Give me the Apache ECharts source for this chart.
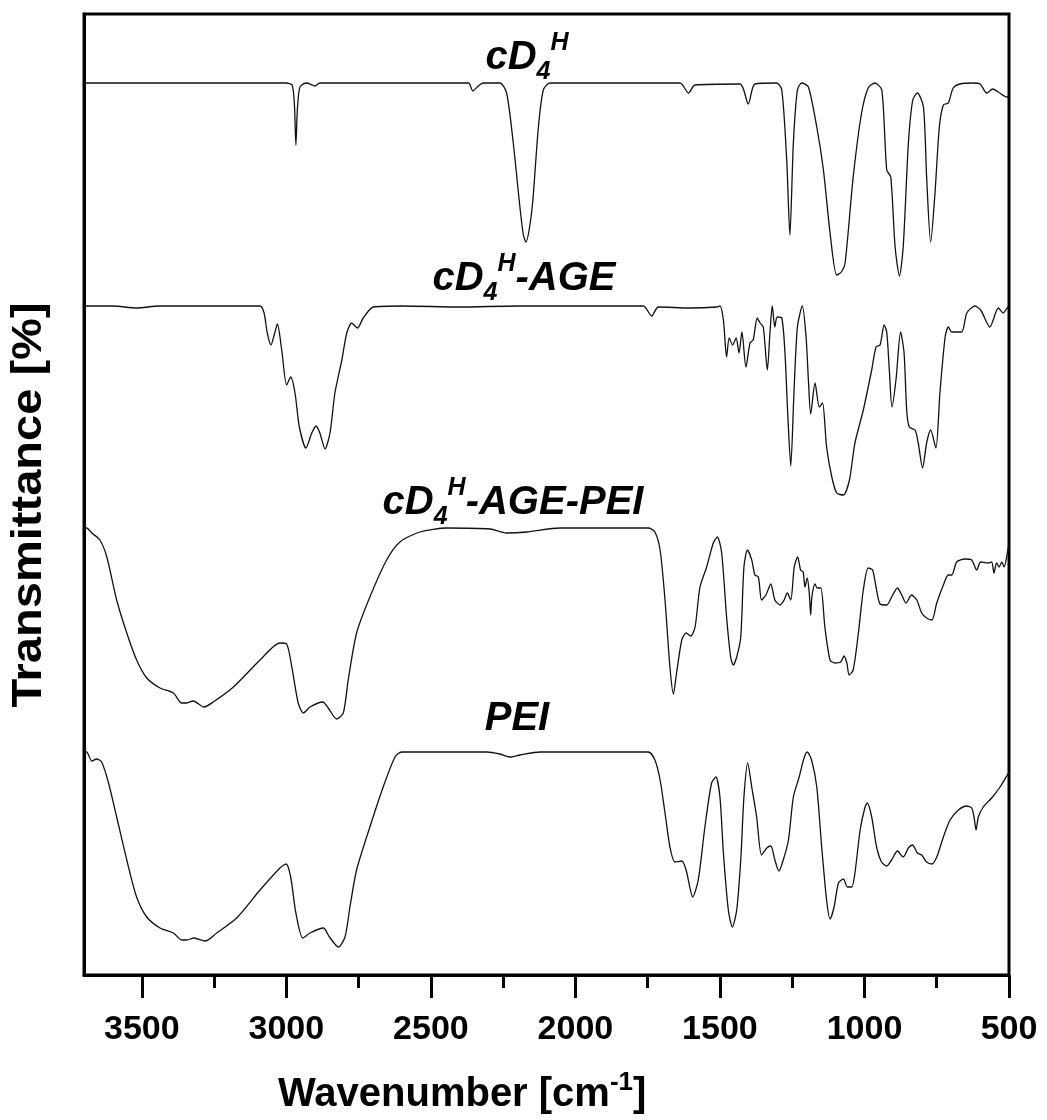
<!DOCTYPE html>
<html><head><meta charset="utf-8">
<script src="https://cdn.jsdelivr.net/npm/echarts@6/dist/echarts.min.js"></script>
<style>html,body{margin:0;padding:0;background:#fff}#c{width:1047px;height:1120px}</style>
</head><body><div id="c"></div>
<script>
// tick values (cm-1)
const majorTicks = [500, 1000, 1500, 2000, 2500, 3000, 3500];
const minorTicks = [750, 1250, 1750, 2250, 2750, 3250];
const seriesNames = ['cD4H', 'cD4H-AGE', 'cD4H-AGE-PEI', 'PEI'];

// [wavenumber, offset transmittance]
const cd4h = [[3700,89.2],[3000,89.2],[2980,89.0],[2972,87.0],[2967,83.0],[2962,86.5],[2955,88.6],[2947,89.0],[2930,89.2],[2910,89.0],[2901,88.9],[2884,89.2],[2600,89.2],[2370,89.2],[2355,88.4],[2336,88.9],[2319,89.2],[2261,89.2],[2238,88.2],[2215,83.2],[2192,76.8],[2180,74.0],[2171,73.3],[2160,74.5],[2148,77.2],[2128,84.8],[2111,88.5],[2088,89.2],[1900,89.2],[1638,89.2],[1609,88.2],[1586,89.0],[1431,89.1],[1402,87.1],[1379,89.1],[1304,89.2],[1286,88.5],[1269,81.5],[1258,74.0],[1246,83.2],[1232,88.5],[1217,89.2],[1194,88.8],[1165,84.8],[1142,80.5],[1119,74.2],[1096,70.0],[1080,70.3],[1067,71.2],[1039,79.8],[1010,86.2],[987,88.7],[964,89.2],[940,88.5],[923,80.5],[909,79.8],[894,72.8],[879,69.9],[866,72.8],[848,83.2],[833,87.5],[817,88.2],[796,86.8],[785,79.8],[771,73.3],[756,78.2],[741,84.8],[727,87.0],[710,87.2],[693,88.7],[670,89.1],[623,89.2],[600,89.1],[577,88.2],[556,88.6],[537,88.3],[508,87.8],[500,87.8]];

const cd4hAge = [[3700,66.9],[3600,66.9],[3518,66.7],[3440,66.9],[3200,66.9],[3091,66.9],[3077,66.2],[3066,64.2],[3053,63.0],[3042,64.0],[3031,65.1],[3016,62.5],[2999,59.0],[2985,59.8],[2970,58.2],[2955,54.8],[2932,52.7],[2912,54.2],[2897,54.9],[2884,54.2],[2866,52.6],[2849,54.2],[2832,58.2],[2808,61.5],[2791,64.2],[2774,65.2],[2754,64.7],[2734,65.7],[2699,66.8],[2600,66.9],[2400,66.8],[2200,66.9],[1900,66.9],[1765,66.9],[1736,65.9],[1713,66.8],[1600,66.7],[1511,66.8],[1500,66.9],[1488,65.5],[1477,61.8],[1468,63.7],[1456,63.0],[1444,63.7],[1434,62.2],[1424,64.3],[1410,60.8],[1396,63.2],[1385,63.5],[1371,65.7],[1361,65.2],[1350,64.8],[1336,60.5],[1327,64.2],[1319,66.9],[1310,64.8],[1302,65.8],[1286,65.7],[1275,62.2],[1266,56.5],[1255,50.9],[1244,58.2],[1232,64.8],[1215,66.9],[1202,63.8],[1194,59.5],[1186,56.1],[1171,59.2],[1156,56.8],[1145,57.2],[1131,52.8],[1113,49.8],[1096,48.2],[1073,48.0],[1052,49.5],[1033,53.2],[1004,56.5],[975,60.5],[960,62.8],[946,63.0],[932,65.0],[923,64.3],[914,60.5],[905,56.8],[891,59.5],[875,64.3],[863,62.2],[854,56.5],[845,54.8],[825,54.5],[814,53.2],[799,50.7],[785,53.2],[771,54.5],[753,52.7],[739,58.2],[721,63.8],[710,64.8],[698,64.3],[664,64.3],[646,66.2],[618,66.9],[598,66.5],[566,64.8],[537,66.7],[520,66.2],[502,66.8],[500,66.8]];

const cd4hAgePei = [[3700,44.7],[3691,44.7],[3673,44.2],[3645,43.5],[3621,41.8],[3587,37.5],[3552,34.2],[3518,31.5],[3483,29.7],[3437,28.7],[3391,28.2],[3362,27.2],[3345,27.2],[3322,27.4],[3285,26.8],[3253,27.3],[3183,28.8],[3091,31.5],[3022,33.2],[2999,33.1],[2981,30.8],[2959,27.2],[2941,26.2],[2918,26.8],[2874,27.3],[2855,26.7],[2826,25.6],[2803,26.2],[2786,29.5],[2757,34.2],[2711,37.8],[2653,41.5],[2607,43.3],[2538,44.3],[2445,44.7],[2295,44.6],[2238,44.2],[2169,44.3],[2053,44.7],[1748,44.7],[1725,44.3],[1707,42.5],[1690,37.5],[1673,30.8],[1661,28.1],[1650,30.2],[1632,33.5],[1617,34.2],[1601,33.9],[1586,34.8],[1569,38.8],[1546,40.8],[1523,43.2],[1509,43.8],[1494,42.2],[1477,35.8],[1463,31.8],[1454,31.0],[1442,31.8],[1428,33.8],[1417,40.8],[1405,42.5],[1390,41.5],[1379,40.0],[1367,39.8],[1356,37.5],[1341,38.0],[1324,39.1],[1310,37.5],[1292,37.0],[1278,37.5],[1267,38.2],[1255,37.5],[1243,40.8],[1231,41.8],[1221,40.5],[1212,40.3],[1206,38.8],[1198,39.7],[1191,38.2],[1186,36.0],[1182,37.8],[1171,39.1],[1163,38.7],[1151,38.7],[1137,34.8],[1119,31.5],[1102,31.2],[1082,31.3],[1071,31.9],[1061,31.2],[1053,30.0],[1039,30.5],[1021,34.2],[1004,38.5],[987,40.7],[972,40.5],[960,38.8],[946,37.1],[923,37.0],[906,37.8],[886,38.7],[871,38.0],[856,37.2],[837,38.0],[819,37.5],[802,36.2],[785,35.7],[767,35.5],[750,37.2],[727,39.0],[710,40.0],[698,40.0],[681,41.3],[652,41.6],[629,41.5],[612,40.5],[598,41.3],[572,41.2],[560,41.3],[552,40.2],[543,41.2],[534,40.8],[525,41.3],[517,40.8],[502,42.8],[500,43.0]];

const pei = [[3700,22.3],[3691,22.3],[3673,21.4],[3656,21.6],[3639,21.3],[3616,19.3],[3587,15.8],[3552,11.5],[3518,7.8],[3483,5.8],[3437,4.7],[3391,4.2],[3362,3.5],[3345,3.5],[3319,3.7],[3281,3.4],[3241,4.2],[3172,5.7],[3091,8.5],[3022,10.7],[3001,11.1],[2985,9.8],[2967,6.2],[2943,3.7],[2918,4.2],[2872,4.7],[2851,3.8],[2820,2.8],[2797,3.8],[2780,6.8],[2757,10.5],[2711,14.8],[2665,18.8],[2624,21.8],[2601,22.3],[2307,22.3],[2261,22.1],[2226,21.8],[2192,22.0],[2122,22.3],[2053,22.3],[1748,22.3],[1725,21.5],[1707,19.5],[1690,16.2],[1673,12.8],[1656,11.3],[1632,11.4],[1617,10.5],[1594,7.8],[1575,9.5],[1552,14.8],[1529,19.2],[1514,19.8],[1500,17.8],[1488,12.2],[1471,6.5],[1457,4.8],[1442,6.5],[1428,11.5],[1417,17.8],[1404,21.2],[1390,18.8],[1373,15.8],[1356,12.0],[1338,12.7],[1324,12.9],[1310,11.5],[1296,10.4],[1281,11.5],[1263,13.5],[1246,17.8],[1226,19.8],[1209,21.7],[1198,22.3],[1183,21.5],[1165,18.8],[1148,12.8],[1131,7.5],[1119,5.6],[1105,6.8],[1090,9.2],[1073,9.6],[1059,8.8],[1044,8.8],[1033,10.2],[1015,14.5],[998,16.8],[990,17.2],[975,15.8],[958,12.8],[941,11.3],[923,10.9],[906,11.5],[886,12.4],[866,11.8],[848,12.7],[834,13.0],[817,12.2],[802,12.0],[785,11.3],[767,11.1],[750,11.8],[727,13.8],[704,15.5],[675,16.5],[646,16.9],[629,16.7],[621,15.8],[614,14.5],[606,15.8],[589,16.8],[560,17.7],[531,18.8],[502,20.2],[500,20.3]];

const allData = [cd4h, cd4hAge, cd4hAgePei, pei];
const FONT = '"Liberation Sans", Arial, Helvetica, sans-serif';

const chart = echarts.init(document.getElementById('c'), null, {renderer: 'canvas'});

const lblRich = {
  m: {fontSize: 40, fontWeight: 'bold', fontStyle: 'italic', fontFamily: FONT, lineHeight: 54, fill: '#000', verticalAlign: 'middle'},
  s: {fontSize: 25, fontWeight: 'bold', fontStyle: 'italic', fontFamily: FONT, lineHeight: 25, fill: '#000', verticalAlign: 'bottom'},
  p: {fontSize: 25, fontWeight: 'bold', fontStyle: 'italic', fontFamily: FONT, lineHeight: 25, fill: '#000', verticalAlign: 'top'}
};
const labelTexts = ['{m|cD}{s|4}{p|H}', '{m|cD}{s|4}{p|H}{m|-AGE}', '{m|cD}{s|4}{p|H}{m|-AGE-PEI}', '{m|PEI}'];
const labelPos = [[527, 58], [524, 279], [513, 503], [517, 719]];

const graphics = labelTexts.map((t, i) => ({
  type: 'text', x: labelPos[i][0], y: labelPos[i][1], z: 10,
  style: {text: t, textAlign: 'center', textVerticalAlign: 'middle', rich: lblRich}
}));
graphics.push({
  type: 'text', x: 29, y: 505, rotation: Math.PI / 2, scaleX: 1.12, z: 10,
  style: {text: 'Transmittance [%]', textAlign: 'center', textVerticalAlign: 'middle',
    font: 'bold 42px ' + FONT, fill: '#000'}
});
graphics.push({
  type: 'text', x: 278, y: 1095, z: 10,
  style: {text: '{m|Wavenumber [cm}{p|-1}{m|]}', textAlign: 'left', textVerticalAlign: 'middle',
    rich: {
      m: {fontSize: 40, fontWeight: 'bold', fontFamily: FONT, lineHeight: 50, fill: '#000', verticalAlign: 'middle'},
      p: {fontSize: 26, fontWeight: 'bold', fontFamily: FONT, lineHeight: 26, fill: '#000', verticalAlign: 'top'}
    }}
});

chart.setOption({
  animation: false,
  backgroundColor: '#fff',
  grid: {left: 84, right: 38, top: 14, bottom: 145, show: true, borderColor: '#000', borderWidth: 3, backgroundColor: 'transparent'},
  xAxis: [{
    type: 'value', min: 500, max: 3700, interval: 500, inverse: true, position: 'bottom',
    axisLine: {show: true, onZero: false, lineStyle: {color: '#000', width: 3}},
    axisTick: {show: true, inside: false, length: 23, customValues: majorTicks, lineStyle: {color: '#000', width: 3}},
    axisLabel: {show: true, customValues: majorTicks, margin: 38, fontSize: 34, fontWeight: 'bold', fontFamily: FONT, color: '#000',
      formatter: v => String(v)},
    splitLine: {show: false}
  }, {
    type: 'value', min: 500, max: 3700, interval: 500, inverse: true, position: 'bottom',
    axisLine: {show: false, onZero: false},
    axisTick: {show: true, inside: false, length: 13, customValues: minorTicks, lineStyle: {color: '#000', width: 3}},
    axisLabel: {show: false},
    splitLine: {show: false}
  }],
  yAxis: {
    type: 'value', min: 0, max: 96.1,
    axisLine: {show: true, lineStyle: {color: '#000', width: 3}},
    axisTick: {show: false}, axisLabel: {show: false}, splitLine: {show: false}
  },
  series: allData.map((d, i) => ({
    name: seriesNames[i], type: 'line', xAxisIndex: 0, data: d,
    showSymbol: false, symbol: 'none', smooth: 0.25,
    lineStyle: {color: '#111', width: 1.3}
  })),
  graphic: graphics
});
</script>
</body></html>
